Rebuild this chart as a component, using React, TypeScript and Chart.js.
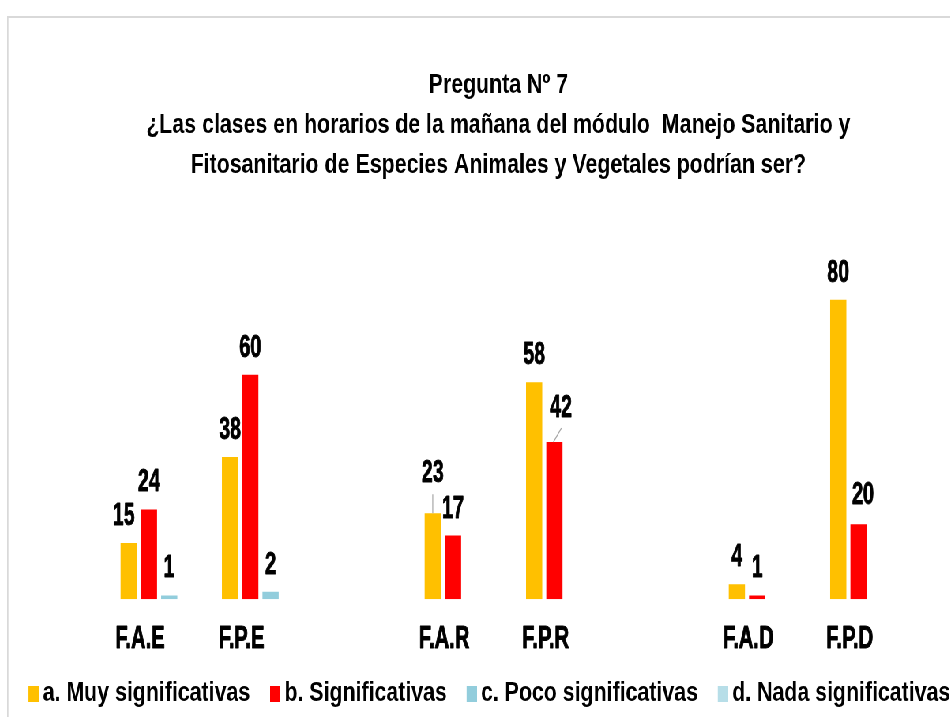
import React, { useEffect, useRef } from 'react';
import { Chart, registerables } from 'chart.js';

Chart.register(...registerables);

// ---- data ----
const categories = ['F.A.E', 'F.P.E', '', 'F.A.R', 'F.P.R', '', 'F.A.D', 'F.P.D'];
const muySignificativas = [15, 38, null, 23, 58, null, 4, 80];
const significativas = [24, 60, null, 17, 42, null, 1, 20];
const pocoSignificativas = [1, 2, null, 0, 0, null, 0, 0];
const nadaSignificativas = [0, 0, null, 0, 0, null, 0, 0];
const seriesNames = [
  'a. Muy significativas',
  'b. Significativas',
  'c. Poco significativas',
  'd. Nada significativas',
];
const titleLines = [
  'Pregunta Nº 7',
  '¿Las clases en horarios de la mañana del módulo  Manejo Sanitario y',
  'Fitosanitario de Especies Animales y Vegetales podrían ser?',
];
const yMin = 0;
const yMax = 100;

// ---- styles ----
const COLORS = ['#FFC000', '#FF0000', '#92CDDC', '#B7DEE8'];
const SX = 0.79; // horizontal condensation of the whole picture
const W = 1240;
const H = 699;
const FONT = "'Liberation Sans', Arial, sans-serif";
const NARROW = 0.8; // extra condensation for tick and value labels

// label nudges (screen px) keyed by dataset-index
const nudges: Record<string, { dx?: number; dy?: number; line?: number[][] }> = {
  '0-0': { dx: -5 },
  '0-3': { dy: -13, line: [[0, -19], [0, 0]] },
  '1-4': { dx: 6.5, dy: -7, line: [[7, -14], [-1, 0]] },
  '1-7': { dx: 4.5, dy: -2 },
};

function makeMarker(color: string) {
  const c = document.createElement('canvas');
  c.width = 21;
  c.height = 16;
  const g = c.getContext('2d')!;
  g.fillStyle = color;
  g.fillRect(8, 0, 13, 16);
  return c;
}

function heavyText(ctx: CanvasRenderingContext2D, s: string) {
  ctx.fillText(s, 0, 0);
  ctx.lineWidth = 0.9;
  ctx.strokeStyle = '#000000';
  ctx.lineJoin = 'round';
  ctx.strokeText(s, 0, 0);
}

const labelPlugin = {
  id: 'valueLabels',
  afterDatasetsDraw(chart: any) {
    const ctx = chart.ctx;
    // value labels
    chart.data.datasets.forEach((ds: any, di: number) => {
      const meta = chart.getDatasetMeta(di);
      meta.data.forEach((el: any, i: number) => {
        const v = ds.data[i];
        if (v === null || v === undefined || v === 0) return;
        const n = nudges[`${di}-${i}`] || {};
        const dx = (n.dx || 0) / SX;
        const dy = n.dy || 0;
        if (n.line) {
          ctx.save();
          ctx.strokeStyle = '#A6A6A6';
          ctx.lineWidth = 1.2;
          ctx.beginPath();
          ctx.moveTo(el.x + n.line[0][0] / SX, el.y + n.line[0][1]);
          ctx.lineTo(el.x + n.line[1][0] / SX, el.y + n.line[1][1]);
          ctx.stroke();
          ctx.restore();
        }
        ctx.save();
        ctx.translate(el.x + dx, el.y - 18 + dy);
        ctx.scale(0.78, 1);
        ctx.font = `bold 32px ${FONT}`;
        ctx.fillStyle = '#000000';
        ctx.textAlign = 'center';
        ctx.textBaseline = 'alphabetic';
        heavyText(ctx, String(v));
        ctx.restore();
      });
    });
    // category labels, placed by the x scale
    const xs = chart.scales.x;
    const labels: string[] = chart.data.labels;
    labels.forEach((lab, i) => {
      if (!lab) return;
      const px = xs.getPixelForValue(i) - 24;
      ctx.save();
      ctx.translate(px, chart.chartArea.bottom + 40);
      ctx.scale(NARROW, 1);
      ctx.font = `bold 32px ${FONT}`;
      ctx.fillStyle = '#000000';
      ctx.textAlign = 'center';
      ctx.textBaseline = 'middle';
      heavyText(ctx, lab);
      ctx.restore();
    });
  },
};

export default function App() {
  const ref = useRef<HTMLCanvasElement>(null);

  useEffect(() => {
    if (!ref.current) return;
    const series = [muySignificativas, significativas, pocoSignificativas, nadaSignificativas];
    const chart = new Chart(ref.current, {
      type: 'bar',
      data: {
        labels: categories,
        datasets: series.map((d, i) => ({
          label: seriesNames[i],
          data: d,
          backgroundColor: COLORS[i],
          borderWidth: 0,
          pointStyle: makeMarker(COLORS[i]) as any,
          categoryPercentage: 0.8,
          barPercentage: 0.8,
          yAxisID: 'y',
        })),
      },
      options: {
        responsive: true,
        maintainAspectRatio: false,
        animation: false,
        events: [],
        layout: { padding: 0 },
        plugins: {
          tooltip: { enabled: false },
          title: {
            display: true,
            text: titleLines,
            color: '#000000',
            font: { family: FONT, size: 27, weight: 'bold', lineHeight: 40 / 27 },
            padding: { top: 48, bottom: 39 },
          },
          legend: {
            display: true,
            position: 'bottom',
            align: 'start',
            labels: {
              usePointStyle: true,
              pointStyleWidth: 4.5,
              boxHeight: 16,
              padding: 25.3,
              color: '#000000',
              font: { family: FONT, size: 27, weight: 'bold' },
            },
          },
        },
        scales: {
          x: {
            grid: { display: false, drawTicks: false },
            border: { display: false },
            ticks: { display: false },
            afterFit: (s: any) => {
              s.height = 55.5;
            },
          },
          y: {
            min: yMin,
            max: yMax,
            display: true,
            ticks: { display: false },
            grid: { display: false, drawTicks: false },
            border: { display: false },
            afterFit: (s: any) => {
              s.width = 126.3;
            },
          },
          y2: {
            position: 'right',
            min: 0,
            max: 1,
            display: true,
            ticks: { display: false },
            grid: { display: false, drawTicks: false },
            border: { display: false },
            afterFit: (s: any) => {
              s.width = 87.1;
            },
          },
        },
      } as any,
      plugins: [labelPlugin],
    });
    return () => chart.destroy();
  }, []);

  return (
    <div style={{ position: 'fixed', inset: 0, overflow: 'hidden', background: '#ffffff' }}>
      <div
        style={{
          position: 'absolute',
          left: 7,
          top: 16,
          transform: `scaleX(${SX})`,
          transformOrigin: '0 0',
          borderTop: '2px solid #D9D9D9',
          borderLeft: `${2 / SX}px solid #D9D9D9`,
          width: W,
          height: H,
        }}
      >
        <div style={{ position: 'relative', width: W, height: H }}>
          <canvas ref={ref} />
        </div>
      </div>
    </div>
  );
}
